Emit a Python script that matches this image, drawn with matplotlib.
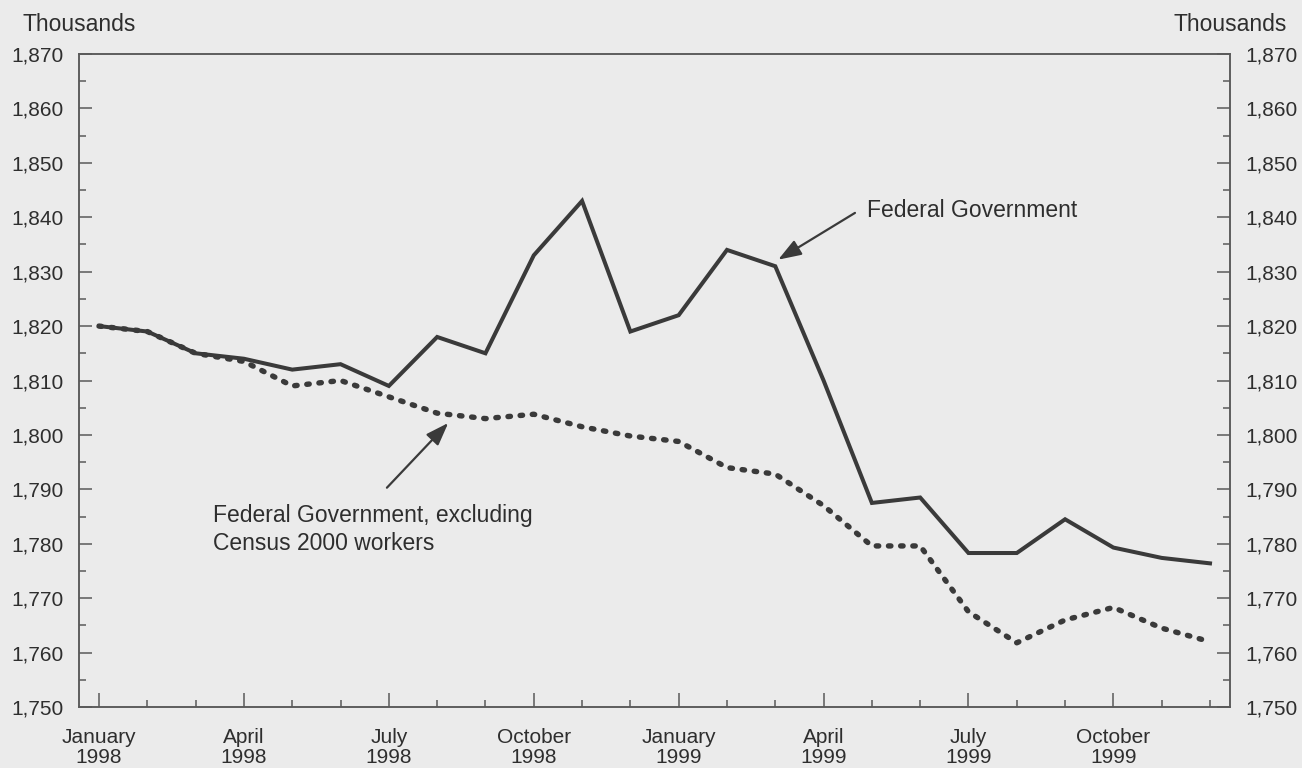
import numpy as np
import matplotlib.pyplot as plt
from matplotlib.ticker import MultipleLocator, FuncFormatter

plt.rcParams['font.family'] = ['Liberation Sans', 'DejaVu Sans']

# monthly values, January 1998 .. December 1999 (thousands)
months = list(range(24))
federal = [1820, 1819, 1815, 1814, 1812, 1813, 1809, 1818, 1815, 1833, 1843, 1819,
           1822, 1834, 1831, 1810, 1787.5, 1788.5, 1778.3, 1778.3, 1784.5, 1779.3, 1777.4, 1776.4]
excl_census = [1820, 1819, 1815, 1813.5, 1809, 1810, 1807, 1804, 1803, 1803.8, 1801.5, 1799.8,
               1798.8, 1794, 1792.8, 1787, 1779.6, 1779.6, 1767.5, 1761.8, 1766, 1768.3, 1764.5, 1762]
tick_pos = [0, 3, 6, 9, 12, 15, 18, 21]
tick_labels = ['January\n1998', 'April\n1998', 'July\n1998', 'October\n1998',
               'January\n1999', 'April\n1999', 'July\n1999', 'October\n1999']

bg = '#ebebeb'
ink = '#3a3a3a'
axis_col = '#5a5a5a'
txt = '#2e2e2e'
tick_fs = 15
text_fs = 16.5

fig = plt.figure(figsize=(13.02, 7.68), dpi=100, facecolor=bg)
ax = fig.add_axes([0.0607, 0.0794, 0.884, 0.8503], facecolor=bg)

ax.plot(months, federal, color=ink, lw=2.9, solid_joinstyle='miter')
ax.plot(months, excl_census, color=ink, lw=3.9, dashes=(0.45, 1.8), dash_capstyle='round')

ax.set_xlim(-0.414, 23.414)
ax.set_ylim(1750, 1870)

fmt = FuncFormatter(lambda v, p: f'{int(v):,}')
ax.yaxis.set_major_locator(MultipleLocator(10))
ax.yaxis.set_minor_locator(MultipleLocator(5))
ax.yaxis.set_major_formatter(fmt)
ax.set_xticks(tick_pos)
ax.set_xticklabels(tick_labels)
ax.set_xticks(months, minor=True)

for s in ax.spines.values():
    s.set_color(axis_col)
    s.set_linewidth(1.1)

ax.tick_params(axis='both', which='both', direction='in', color=axis_col, width=1.1,
               labelcolor=txt, labelsize=tick_fs)
ax.tick_params(axis='y', which='major', length=9.5, pad=11)
ax.tick_params(axis='y', which='minor', length=5)
ax.tick_params(axis='x', which='major', length=10, pad=15)
ax.tick_params(axis='x', which='minor', length=5)
for lab in ax.get_xticklabels():
    lab.set_linespacing(1.1)

ax2 = ax.twinx()
ax2.set_ylim(1750, 1870)
ax2.yaxis.set_major_locator(MultipleLocator(10))
ax2.yaxis.set_minor_locator(MultipleLocator(5))
ax2.yaxis.set_major_formatter(fmt)
for s in ax2.spines.values():
    s.set_color(axis_col)
    s.set_linewidth(1.1)
ax2.tick_params(axis='y', which='both', direction='in', color=axis_col, width=1.1,
                labelcolor=txt, labelsize=tick_fs)
ax2.tick_params(axis='y', which='major', length=9.5, pad=11)
ax2.tick_params(axis='y', which='minor', length=5)

fig.text(0.017, 0.968, 'Thousands', ha='left', va='center', fontsize=text_fs, color=txt)
fig.text(0.988, 0.968, 'Thousands', ha='right', va='center', fontsize=text_fs, color=txt)

arrow = dict(arrowstyle='-|>,head_length=0.7,head_width=0.25', color=ink, lw=1.6,
             mutation_scale=20, shrinkA=0, shrinkB=0)

ax.text(15.9, 1841.3, 'Federal Government', fontsize=text_fs, color=txt,
        va='center', ha='left')
ax.annotate('', xy=(14.06, 1832.2), xytext=(15.65, 1840.8), arrowprops=arrow)

ax.text(2.35, 1782.6, 'Federal Government, excluding\nCensus 2000 workers',
        fontsize=text_fs, color=txt, va='center', ha='left', linespacing=1.3)
ax.annotate('', xy=(7.23, 1802.2), xytext=(5.96, 1790.3), arrowprops=arrow)

fig.savefig('out.png', dpi=100, facecolor=bg)
